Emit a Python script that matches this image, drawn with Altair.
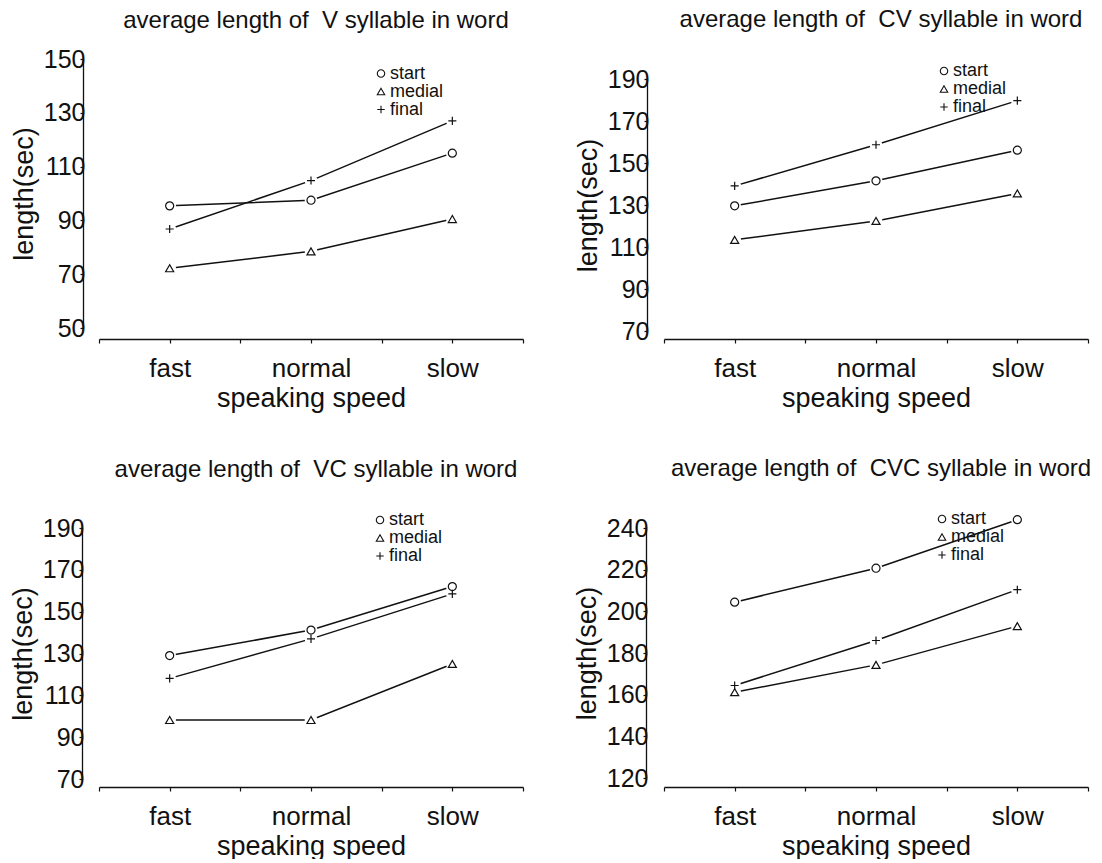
import altair as alt
import pandas as pd

speeds = ["fast", "normal", "slow"]
series = ["start", "medial", "final"]
shapes = ["circle", "triangle-up", "M-1,0H1M0,-1V1"]

titles = [
    "average length of \u00a0V syllable in word",
    "average length of \u00a0CV syllable in word",
    "average length of \u00a0VC syllable in word",
    "average length of \u00a0CVC syllable in word",
]

# V syllable
v_start = [95.4, 97.5, 115.0]
v_medial = [72.2, 78.5, 90.5]
v_final = [86.8, 104.8, 127.0]
# CV syllable
cv_start = [129.6, 141.5, 156.1]
cv_medial = [113.4, 122.4, 135.5]
cv_final = [139.1, 158.7, 179.7]
# VC syllable
vc_start = [129.0, 141.2, 162.0]
vc_medial = [98.2, 98.2, 125.0]
vc_final = [118.1, 137.0, 158.5]
# CVC syllable
cvc_start = [204.4, 220.7, 244.0]
cvc_medial = [161.2, 174.3, 192.9]
cvc_final = [164.4, 186.0, 210.4]

y_ticks_v = [50, 70, 90, 110, 130, 150]
y_ticks_cv = [70, 90, 110, 130, 150, 170, 190]
y_ticks_vc = [70, 90, 110, 130, 150, 170, 190]
y_ticks_cvc = [120, 140, 160, 180, 200, 220, 240]

FONT = "Liberation Sans"
INK = "#111111"
W = 424
H_TOP = 280
H_BOT = 259

x_ticks = [0.5, 1, 1.5, 2, 2.5, 3, 3.5]
label_expr = " : ".join(
    [f"datum.value == {i + 1} ? '{s}'" for i, s in enumerate(speeds)] + ["''"]
)


def panel(values, yticks, yrange, height, title, yoff, lx, ly, toff):
    rows = []
    for s, vals in zip(series, values):
        for i, v in enumerate(vals):
            rows.append({"series": s, "speed": speeds[i], "pos": i + 1, "length": v})
    df = pd.DataFrame(rows)
    xaxis = alt.Axis(
        values=x_ticks, labelExpr=label_expr, title="speaking speed",
        grid=False, tickSize=4, labelPadding=12, titlePadding=4,
        labelFontSize=26, titleFontSize=27, labelAngle=0,
    )
    yaxis = alt.Axis(
        values=yticks, title="length(sec)", grid=False, offset=yoff,
        tickSize=3, labelPadding=-5, titlePadding=5,
        labelFontSize=25, titleFontSize=27,
    )
    base = alt.Chart(df).encode(
        x=alt.X("pos:Q", scale=alt.Scale(domain=[0.5, 3.5], nice=False, zero=False), axis=xaxis),
        y=alt.Y("length:Q",
                scale=alt.Scale(domain=[yticks[0], yticks[-1]], range=yrange, nice=False, zero=False),
                axis=yaxis),
    )
    line = base.mark_line(color=INK, strokeWidth=1.5).encode(detail="series:N")
    halo = base.mark_point(filled=True, shape="circle", size=160, color="white", opacity=1)
    pts = base.mark_point(filled=False, color=INK, strokeWidth=1.2, size=65, opacity=1).encode(
        shape=alt.Shape(
            "series:N",
            scale=alt.Scale(domain=series, range=shapes),
            legend=alt.Legend(
                title=None, orient="none", legendX=lx, legendY=ly,
                labelFontSize=18, labelFont=FONT, labelColor=INK,
                symbolSize=55, symbolStrokeColor=INK, symbolStrokeWidth=1.1,
                rowPadding=0, padding=0, labelOffset=0,
            ),
        )
    )
    return alt.layer(line, halo, pts).properties(
        width=W, height=height,
        title=alt.Title(title, fontSize=24, font=FONT, fontWeight="normal",
                        color=INK, anchor="middle", dx=5, offset=toff),
    )


p1 = panel([v_start, v_medial, v_final], y_ticks_v, [269, 0], H_TOP, titles[0], 16, 273, 5.5, 14.5)
p2 = panel([cv_start, cv_medial, cv_final], y_ticks_cv, [272, 20], H_TOP, titles[1], 17, 271, 3, 27)
p3 = panel([vc_start, vc_medial, vc_final], y_ticks_vc, [251, 0], H_BOT, titles[2], 17, 272, -17, 29)
p4 = panel([cvc_start, cvc_medial, cvc_final], y_ticks_cvc, [250, 0], H_BOT, titles[3], 18, 269, -18, 29)

chart = alt.concat(p1, p2, p3, p4, columns=2, spacing={"column": 141, "row": 189}, bounds="flush").resolve_scale(
    shape="independent", x="independent", y="independent"
).resolve_legend(shape="independent").properties(
    padding={"left": 9, "top": 8, "right": 5, "bottom": 0},
    background="white",
).configure_view(stroke=None).configure_axis(
    labelFont=FONT, titleFont=FONT, labelColor=INK, titleColor=INK,
    titleFontWeight="normal", domainColor=INK, domainWidth=1.3,
    tickColor=INK, tickWidth=1.2,
)

chart.save("out.html", embed_options={"renderer": "svg", "actions": False})
